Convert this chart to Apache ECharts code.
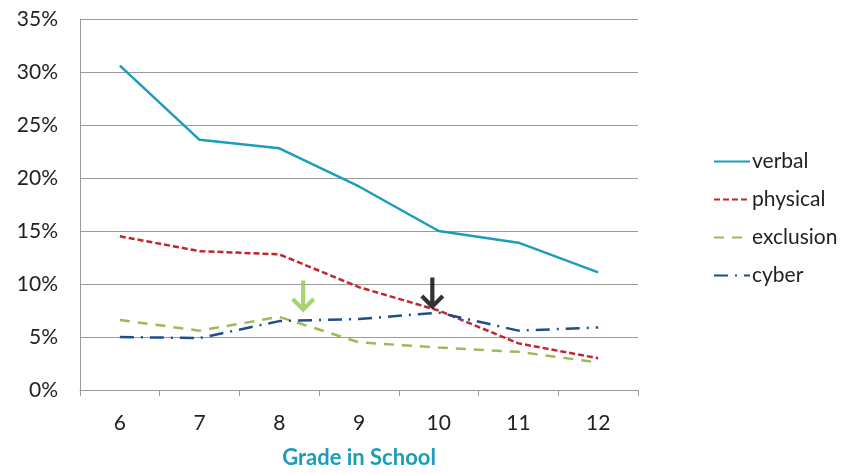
<!DOCTYPE html>
<html>
<head>
<meta charset="utf-8">
<script src="https://cdn.jsdelivr.net/npm/echarts@6/dist/echarts.min.js"></script>
<style>
  html, body { margin: 0; padding: 0; background: #fff; }
  #chart { width: 848px; height: 474px; }
</style>
</head>
<body>
<div id="chart"></div>
<script>
const grades = ['6', '7', '8', '9', '10', '11', '12']
const verbal = [30.6, 23.6, 22.8, 19.2, 15.0, 13.9, 11.1]
const physical = [14.5, 13.1, 12.8, 9.7, 7.5, 4.4, 3.0]
const exclusion = [6.6, 5.6, 6.9, 4.5, 4.0, 3.6, 2.6]
const cyber = [5.0, 4.9, 6.5, 6.7, 7.3, 5.6, 5.9]
// arrows: [position along the grade axis (0 = grade 6), value at the tip]
const greenArrow = [2.3, 7.3]
const blackArrow = [3.92, 7.6]

const font = 'Lato, "Open Sans", sans-serif'
const arrowPath = 'path://M-2,0L2,0L2,22.5L8.6,15.9L11.4,18.7L0,30L-11.4,18.7L-8.6,15.9L-2,22.5Z'

function chartsInit(element, option){
    if(element && option){
        const charts = echarts.init(element)
        charts.setOption(option)
        return charts
    }
    return null
}

function arrowSeries(pos, color){
    return {
        type: 'scatter',
        xAxisIndex: 1,
        data: [pos],
        symbol: arrowPath,
        symbolSize: [24, 32],
        symbolOffset: [0, '-50%'],
        itemStyle: { color: color },
        silent: true,
        z: 5
    }
}

const option = {
    animation: false,
    backgroundColor: '#fff',
    grid: { left: 80, right: 210, top: 19, bottom: 80 },
    legend: {
        orient: 'vertical',
        left: 708,
        top: 146,
        itemWidth: 36,
        itemHeight: 14,
        itemGap: 17,
        itemStyle: { opacity: 0 },
        textStyle: { fontFamily: font, fontSize: 21, color: '#222', padding: [0, 0, 0, -3] },
        data: ['verbal', 'physical', 'exclusion', 'cyber']
    },
    xAxis: [
        {
            type: 'category',
            data: grades,
            name: 'Grade in School',
            nameLocation: 'middle',
            nameGap: 57,
            nameTextStyle: { fontFamily: font, fontSize: 22, fontWeight: 'bold', color: '#1b9dbb' },
            axisLine: { lineStyle: { color: '#9a9a9a', width: 1 } },
            axisTick: { show: true, length: 6, lineStyle: { color: '#9a9a9a' } },
            axisLabel: { fontFamily: font, fontSize: 21, color: '#222', margin: 23 }
        },
        {
            type: 'value',
            min: -0.5,
            max: 6.5,
            show: false
        }
    ],
    yAxis: {
        type: 'value',
        min: 0,
        max: 35,
        interval: 5,
        axisLine: { show: true, onZero: false, lineStyle: { color: '#9a9a9a', width: 1 } },
        axisTick: { show: false },
        splitLine: { lineStyle: { color: '#9a9a9a', width: 1 } },
        axisLabel: { fontFamily: font, fontSize: 21, color: '#222', margin: 22, formatter: '{value}%' }
    },
    series: [
        {
            name: 'verbal', type: 'line', data: verbal, symbol: 'none',
            itemStyle: { color: '#1b9dbb' },
            lineStyle: { color: '#1b9dbb', width: 2.5 }
        },
        {
            name: 'physical', type: 'line', data: physical, symbol: 'none',
            itemStyle: { color: '#c0262d' },
            lineStyle: { color: '#c0262d', width: 2.5, type: [6, 3] }
        },
        {
            name: 'exclusion', type: 'line', data: exclusion, symbol: 'none',
            itemStyle: { color: '#9bbb59' },
            lineStyle: { color: '#9bbb59', width: 2.5, type: [10, 8] }
        },
        {
            name: 'cyber', type: 'line', data: cyber, symbol: 'none',
            itemStyle: { color: '#1f4e8c' },
            lineStyle: { color: '#1f4e8c', width: 2.5, type: [14, 7, 2, 7] }
        },
        arrowSeries(greenArrow, '#8ccc4c'),
        arrowSeries(blackArrow, '#000')
    ]
}

chartsInit(document.getElementById('chart'), option)
</script>
</body>
</html>
